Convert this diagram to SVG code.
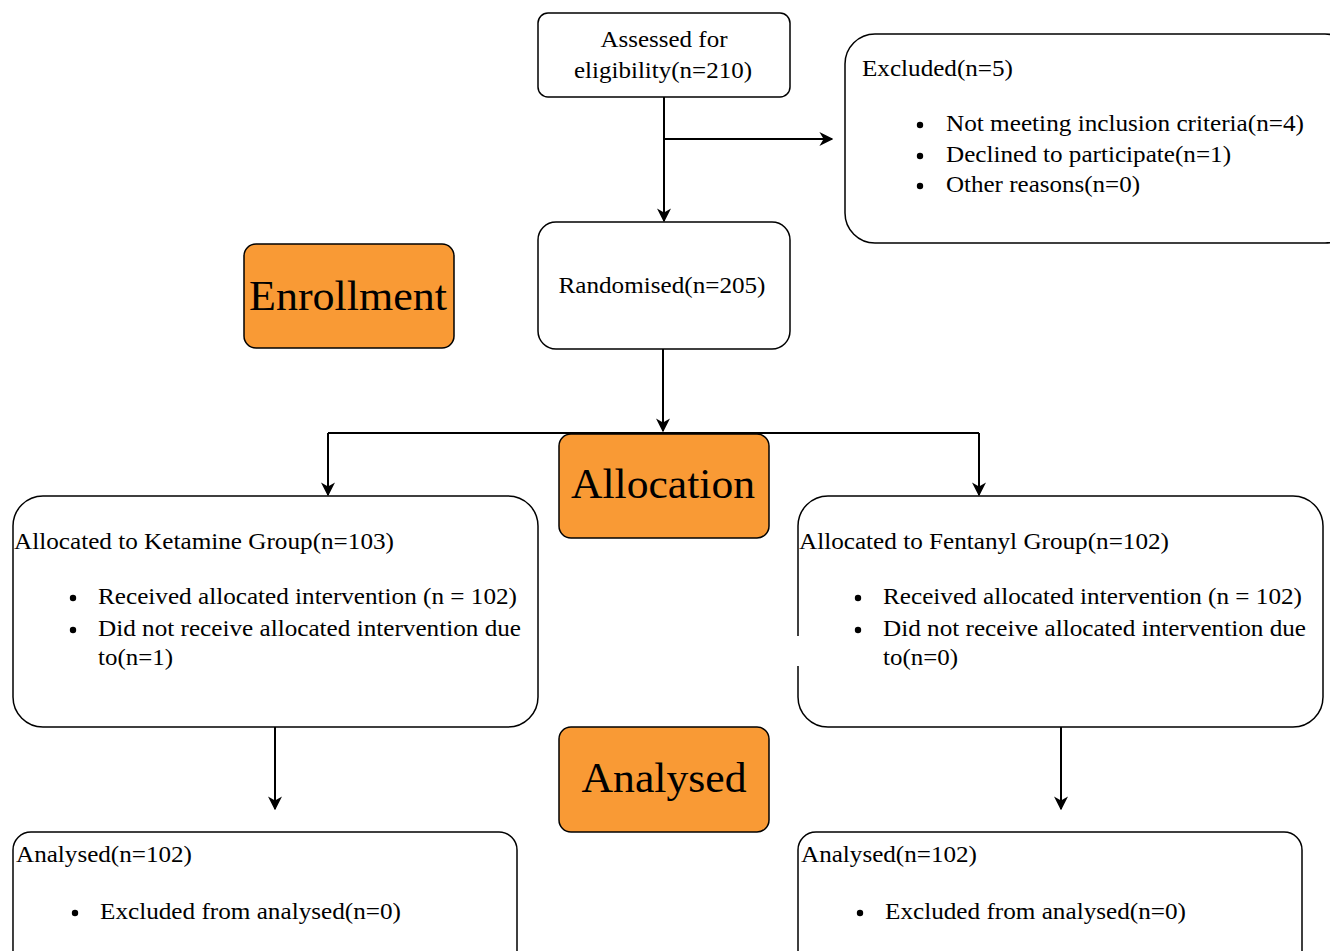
<svg xmlns="http://www.w3.org/2000/svg" width="1330" height="951" viewBox="0 0 1330 951">
<defs>
<marker id="ah" viewBox="0 0 10 10" refX="9" refY="5" markerWidth="14" markerHeight="14" markerUnits="userSpaceOnUse" orient="auto">
<path d="M0,0 L10,5 L0,10 L3,5 Z" fill="#000"/>
</marker>
<style>
.box{fill:#fff;stroke:#000;stroke-width:1.5}
.lab{fill:#F99A35;stroke:#000;stroke-width:1.5}
text{fill:#000}
.t{font-size:23px}
.big{font-size:42px}
.c{text-anchor:middle}
.ln{fill:none;stroke:#000;stroke-width:2}
.b{fill:#000}
</style>
</defs>
<rect width="1330" height="951" fill="#fff"/>
<g id="connectors">
<path class="ln" d="M664,97 V221" marker-end="url(#ah)"/>
<path class="ln" d="M664,139 H832" marker-end="url(#ah)"/>
<path class="ln" d="M663,349 V431" marker-end="url(#ah)"/>
<path class="ln" d="M328,433 H979"/>
<path class="ln" d="M328,433 V495" marker-end="url(#ah)"/>
<path class="ln" d="M979,433 V495" marker-end="url(#ah)"/>
<path class="ln" d="M275,727 V809" marker-end="url(#ah)"/>
<path class="ln" d="M1061,727 V809" marker-end="url(#ah)"/>
</g>
<g font-family="'Liberation Serif', 'DejaVu Serif', 'Times New Roman', serif">
<g id="assessed">
<rect class="box" x="538" y="13" width="252" height="84" rx="10"/>
<text class="t c" x="664" y="47" textLength="127" lengthAdjust="spacingAndGlyphs">Assessed for</text>
<text class="t c" x="663" y="78" textLength="178" lengthAdjust="spacingAndGlyphs">eligibility(n=210)</text>
</g>
<g id="excluded">
<rect class="box" x="845" y="34" width="510" height="209" rx="30"/>
<text class="t" x="862" y="76" textLength="151" lengthAdjust="spacingAndGlyphs">Excluded(n=5)</text>
<circle class="b" cx="920" cy="125" r="3.2"/><text class="t" x="946" y="131" textLength="358" lengthAdjust="spacingAndGlyphs">Not meeting inclusion criteria(n=4)</text>
<circle class="b" cx="920" cy="156" r="3.2"/><text class="t" x="946" y="162" textLength="285" lengthAdjust="spacingAndGlyphs">Declined to participate(n=1)</text>
<circle class="b" cx="920" cy="186" r="3.2"/><text class="t" x="946" y="192" textLength="194" lengthAdjust="spacingAndGlyphs">Other reasons(n=0)</text>
</g>
<g id="randomised">
<rect class="box" x="538" y="222" width="252" height="127" rx="18"/>
<text class="t c" x="662" y="293" textLength="207" lengthAdjust="spacingAndGlyphs">Randomised(n=205)</text>
</g>
<g id="enrollment">
<rect class="lab" x="244" y="244" width="210" height="104" rx="12"/>
<text class="big c" x="348" y="310" textLength="198" lengthAdjust="spacingAndGlyphs">Enrollment</text>
</g>
<g id="allocation">
<rect class="lab" x="559" y="434" width="210" height="104" rx="12"/>
<text class="big c" x="663" y="498" textLength="184" lengthAdjust="spacingAndGlyphs">Allocation</text>
</g>
<g id="ketamine">
<rect class="box" x="13" y="496" width="525" height="231" rx="30"/>
<text class="t" x="14" y="549" textLength="380" lengthAdjust="spacingAndGlyphs">Allocated to Ketamine Group(n=103)</text>
<circle class="b" cx="73" cy="598" r="3.2"/><text class="t" x="98" y="604" textLength="419" lengthAdjust="spacingAndGlyphs">Received allocated intervention (n = 102)</text>
<circle class="b" cx="73" cy="630" r="3.2"/><text class="t" x="98" y="636" textLength="423" lengthAdjust="spacingAndGlyphs">Did not receive allocated intervention due</text>
<text class="t" x="98" y="665" textLength="75" lengthAdjust="spacingAndGlyphs">to(n=1)</text>
</g>
<g id="fentanyl">
<rect class="box" x="798" y="496" width="525" height="231" rx="30"/>
<rect x="790" y="636" width="9" height="30" fill="#fff"/>
<text class="t" x="799" y="549" textLength="370" lengthAdjust="spacingAndGlyphs">Allocated to Fentanyl Group(n=102)</text>
<circle class="b" cx="858" cy="598" r="3.2"/><text class="t" x="883" y="604" textLength="419" lengthAdjust="spacingAndGlyphs">Received allocated intervention (n = 102)</text>
<circle class="b" cx="858" cy="630" r="3.2"/><text class="t" x="883" y="636" textLength="423" lengthAdjust="spacingAndGlyphs">Did not receive allocated intervention due</text>
<text class="t" x="883" y="665" textLength="75" lengthAdjust="spacingAndGlyphs">to(n=0)</text>
</g>
<g id="analysed-label">
<rect class="lab" x="559" y="727" width="210" height="105" rx="12"/>
<text class="big c" x="664" y="792" textLength="165" lengthAdjust="spacingAndGlyphs">Analysed</text>
</g>
<g id="analysed-left">
<rect class="box" x="13" y="832" width="504" height="150" rx="18"/>
<text class="t" x="16" y="862" textLength="176" lengthAdjust="spacingAndGlyphs">Analysed(n=102)</text>
<circle class="b" cx="75" cy="913" r="3.2"/><text class="t" x="100" y="919" textLength="301" lengthAdjust="spacingAndGlyphs">Excluded from analysed(n=0)</text>
</g>
<g id="analysed-right">
<rect class="box" x="798" y="832" width="504" height="150" rx="18"/>
<text class="t" x="801" y="862" textLength="176" lengthAdjust="spacingAndGlyphs">Analysed(n=102)</text>
<circle class="b" cx="860" cy="913" r="3.2"/><text class="t" x="885" y="919" textLength="301" lengthAdjust="spacingAndGlyphs">Excluded from analysed(n=0)</text>
</g>
</g>
</svg>
